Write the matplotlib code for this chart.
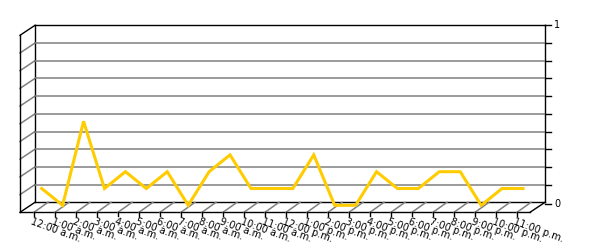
import matplotlib
matplotlib.use("Agg")
import matplotlib.pyplot as plt

hours = ["12:00 a.m.", "1:00 a.m.", "2:00 a.m.", "3:00 a.m.", "4:00 a.m.", "5:00 a.m.",
         "6:00 a.m.", "7:00 a.m.", "8:00 a.m.", "9:00 a.m.", "10:00 a.m.", "11:00 a.m.",
         "12:00 p.m.", "1:00 p.m.", "2:00 p.m.", "3:00 p.m.", "4:00 p.m.", "5:00 p.m.",
         "6:00 p.m.", "7:00 p.m.", "8:00 p.m.", "9:00 p.m.", "10:00 p.m.", "11:00 p.m."]
values = [0.1, 0.0, 0.5, 0.1, 0.2, 0.1, 0.2, 0.0, 0.2, 0.3, 0.1, 0.1,
          0.1, 0.3, 0.0, 0.0, 0.2, 0.1, 0.1, 0.2, 0.2, 0.0, 0.1, 0.1]
y_ticks = [0, 0.1, 0.2, 0.3, 0.4, 0.5, 0.6, 0.7, 0.8, 0.9, 1.0]
y_labels = {0: "0", 1.0: "1"}

W, H = 600, 250
fig = plt.figure(figsize=(6, 2.5), dpi=100)

# overlay for the pseudo-3D frame (pixel coordinates, top-down)
ov = fig.add_axes([0, 0, 1, 1])
ov.set_xlim(0, W)
ov.set_ylim(H, 0)
ov.axis("off")

# back wall geometry
bx0, bx1, by_top, by_bot = 35, 545, 25.3, 202.3
ax = fig.add_axes([bx0 / W, (H - by_bot) / H, (bx1 - bx0) / W, (by_bot - by_top) / H])
ax.set_xlim(-0.32, 24.05)
ax.set_ylim(0, 1)
ax.axis("off")
ax.patch.set_alpha(0)

# mid-depth plane on which the series is drawn
lz_bot, lz_h = 205.3, 168.0
lax = fig.add_axes([bx0 / W, (H - lz_bot) / H, (bx1 - bx0) / W, lz_h / H])
lax.set_xlim(-0.32, 24.05)
lax.set_ylim(0, 1)
lax.axis("off")
lax.patch.set_alpha(0)

dx, dy = -15, 10  # depth vector (front = back + d)
grid_gray = "#808080"

for t in y_ticks:
    yb = by_bot - (by_bot - by_top) * t
    if 0 < t < 1:
        ax.axhline(t, color=grid_gray, lw=1.1, zorder=1)
        ov.plot([bx0 + dx, bx0], [yb + dy, yb], color=grid_gray, lw=1.1)
    ov.plot([bx1, bx1 + 6], [yb + (1.5 if t == 0 else 0)] * 2, color="black", lw=1)
    if t in y_labels:
        ov.text(bx1 + 12, yb + (1.5 if t == 0 else 0), y_labels[t], fontsize=7,
                ha="center", va="center", color="black")

k = "black"
ov.plot([bx0, bx1], [by_top, by_top], color=k, lw=1)
ov.plot([bx0, bx1], [by_bot, by_bot], color=k, lw=1)
ov.plot([bx0, bx0], [by_top, by_bot], color=k, lw=1)
ov.plot([bx1, bx1], [by_top, by_bot], color=k, lw=1)
ov.plot([bx0 + dx, bx0 + dx], [by_top + dy, by_bot + dy], color=k, lw=1)
ov.plot([bx0 + dx, bx0], [by_top + dy, by_top], color=k, lw=1)
ov.plot([bx0 + dx, bx0], [by_bot + dy, by_bot], color=k, lw=1)
ov.plot([bx0 + dx, bx1 + dx], [by_bot + dy, by_bot + dy], color=k, lw=1)
ov.plot([bx1 + dx, bx1], [by_bot + dy, by_bot], color=k, lw=1)

n = len(hours)
for i, lab in enumerate(hours):
    fx = 34 + 21.0 * i
    fy = by_bot + dy
    ov.plot([fx, fx - dx - 1], [fy, fy - dy], color=grid_gray, lw=1.1)
    ov.plot([fx, fx], [fy, fy + 4], color=k, lw=1)
    ov.text(fx - 1.5, fy + 4.5, lab, fontsize=7, rotation=-20, rotation_mode="anchor",
            ha="left", va="top", color="black")

lax.plot(range(n), values, color="#FFCC00", lw=2.2, zorder=5,
         solid_joinstyle="miter", clip_on=False)

fig.savefig("out.png", dpi=100)
